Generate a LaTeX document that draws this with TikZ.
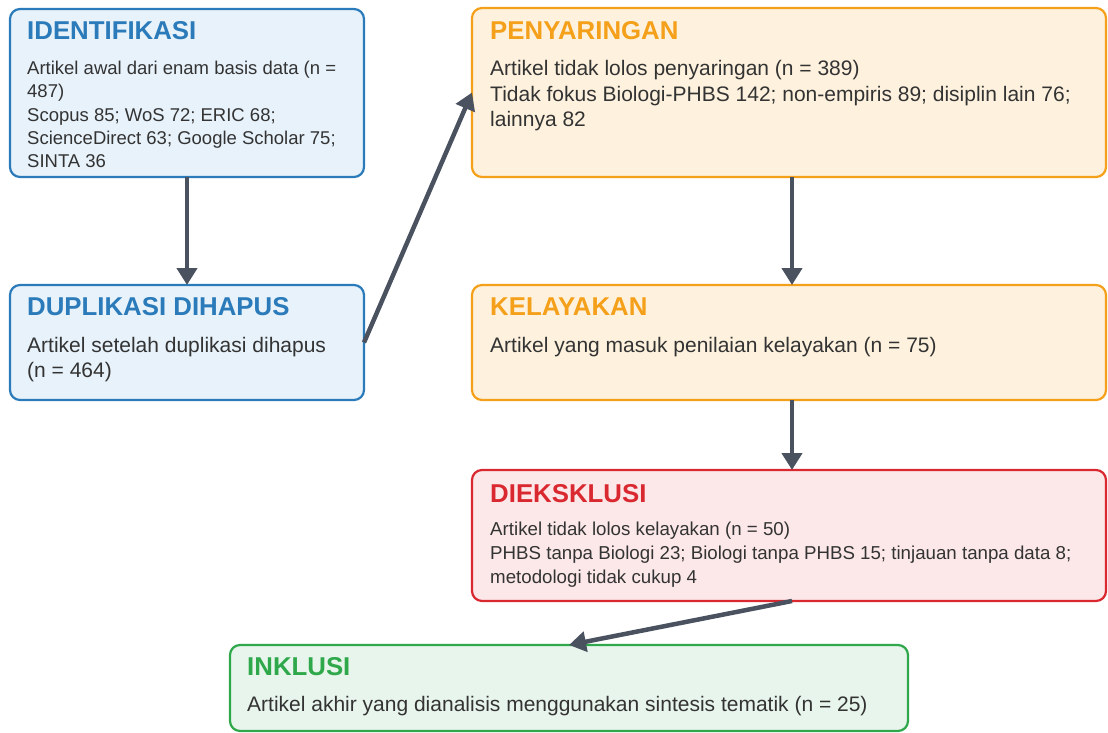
\documentclass[tikz,border=0pt]{standalone}
\usepackage{fontspec}
\setmainfont{Liberation Sans}
\usetikzlibrary{arrows.meta}
\definecolor{bluebd}{HTML}{2B7BBA}
\definecolor{bluefill}{HTML}{E7F2FB}
\definecolor{orbd}{HTML}{F5A01A}
\definecolor{orfill}{HTML}{FEF2DE}
\definecolor{redbd}{HTML}{D9282F}
\definecolor{redfill}{HTML}{FCE8E9}
\definecolor{grbd}{HTML}{2EA84A}
\definecolor{grfill}{HTML}{E8F5EC}
\definecolor{arrowc}{HTML}{4A5260}
\definecolor{bodyc}{HTML}{333333}
\tikzset{
  box/.style={draw, line width=2.2pt, rounded corners=10pt, inner sep=0pt, outer sep=0pt},
  bluebox/.style={box, draw=bluebd, fill=bluefill},
  orbox/.style={box, draw=orbd, fill=orfill},
  redbox/.style={box, draw=redbd, fill=redfill},
  grbox/.style={box, draw=grbd, fill=grfill},
  ttl/.style={anchor=base west, inner sep=0pt, font=\fontsize{25.8}{28}\selectfont\bfseries},
  body/.style={anchor=north west, inner sep=0pt, align=left, text=bodyc},
  conn/.style={draw=arrowc, line width=4.5pt, -{Triangle[width=20pt,length=17pt]}},
}
\begin{document}
\begin{tikzpicture}[x=1pt,y=-1pt]
\useasboundingbox (0,0) rectangle (1108,733);
% boxes
\node[bluebox, minimum width=354pt, minimum height=168pt] (ident) at (187,93) {};
\node[bluebox, minimum width=354pt, minimum height=115pt] (dup) at (187,342.5) {};
\node[orbox, minimum width=634pt, minimum height=169pt] (peny) at (789,92.5) {};
\node[orbox, minimum width=634pt, minimum height=115pt] (kel) at (789,342.5) {};
\node[redbox, minimum width=634pt, minimum height=131pt] (diek) at (789,535.5) {};
\node[grbox, minimum width=678pt, minimum height=86pt] (ink) at (569,688) {};
% titles
\node[ttl, text=bluebd] (identt) at (27,40) {IDENTIFIKASI};
\node[ttl, text=bluebd] (dupt) at (27,315) {DUPLIKASI DIHAPUS};
\node[ttl, text=orbd] (penyt) at (490,40) {PENYARINGAN};
\node[ttl, text=orbd] (kelt) at (490,315) {KELAYAKAN};
\node[ttl, text=redbd] (diekt) at (490,502) {DIEKSKLUSI};
\node[ttl, text=grbd] (inkt) at (247,675) {INKLUSI};
% bodies
\node[body, font=\fontsize{18.5}{23.3}\selectfont] (identb) at (27,61) {Artikel awal dari enam basis data (n =\\487)\\Scopus 85; WoS 72; ERIC 68;\\ScienceDirect 63; Google Scholar 75;\\SINTA 36};
\node[body, font=\fontsize{21}{25}\selectfont] (dupb) at (27,336.7) {Artikel setelah duplikasi dihapus\\(n = 464)};
\node[body, font=\fontsize{21}{25.3}\selectfont] (penyb) at (490,60.4) {Artikel tidak lolos penyaringan (n = 389)\\Tidak fokus Biologi-PHBS 142; non-empiris 89; disiplin lain 76;\\lainnya 82};
\node[body, font=\fontsize{21}{25}\selectfont] (kelb) at (490,336.7) {Artikel yang masuk penilaian kelayakan (n = 75)};
\node[body, font=\fontsize{18.7}{24}\selectfont] (diekb) at (490,521.3) {Artikel tidak lolos kelayakan (n = 50)\\PHBS tanpa Biologi 23; Biologi tanpa PHBS 15; tinjauan tanpa data 8;\\metodologi tidak cukup 4};
\node[body, font=\fontsize{21}{25}\selectfont] (inkb) at (247,695.7) {Artikel akhir yang dianalisis menggunakan sintesis tematik (n = 25)};
% connectors
\draw[conn] (ident.south) -- (dup.north);
\draw[conn] (dup.east) -- (peny.west);
\draw[conn] ([xshift=3pt]peny.south) -- ([xshift=3pt]kel.north);
\draw[conn] ([xshift=3pt]kel.south) -- ([xshift=3pt]diek.north);
\draw[conn] ([xshift=3pt]diek.south) -- (ink.north);
\end{tikzpicture}
\end{document}
